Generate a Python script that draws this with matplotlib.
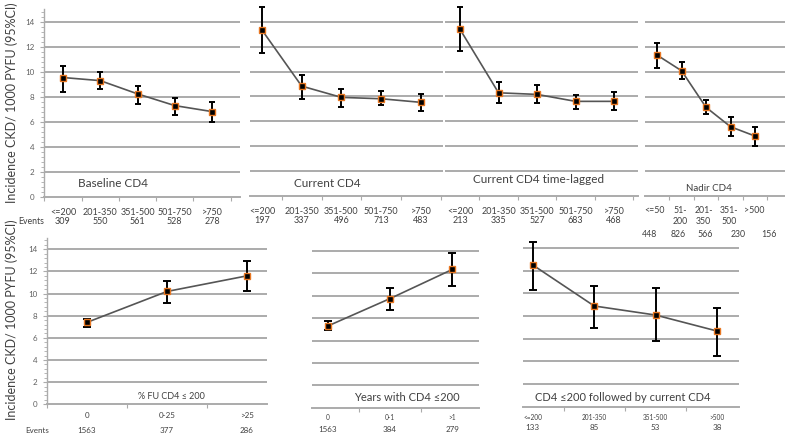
import matplotlib
matplotlib.use("Agg")
import matplotlib.pyplot as plt
from matplotlib.transforms import blended_transform_factory
from matplotlib.ticker import MultipleLocator, FixedLocator, NullFormatter

plt.rcParams['font.family'] = ['Lato', 'DejaVu Sans']

W, H = 785, 436

# ---------------- data ----------------
base_cats = ["<=200", "201-350", "351-500", "501-750", ">750"]
base_events = ["309", "550", "561", "528", "278"]
base_val = [9.55, 9.30, 8.24, 7.30, 6.82]
base_lo = [8.35, 8.63, 7.43, 6.58, 5.96]
base_hi = [10.51, 9.97, 8.90, 7.91, 7.56]

cur_cats = ["<=200", "201-350", "351-500", "501-750", ">750"]
cur_events = ["197", "337", "496", "713", "483"]
cur_val = [13.35, 8.83, 7.92, 7.81, 7.52]
cur_lo = [11.52, 7.81, 7.16, 7.27, 6.84]
cur_hi = [15.18, 9.72, 8.56, 8.43, 8.16]

lag_cats = ["<=200", "201-350", "351-500", "501-750", ">750"]
lag_events = ["213", "335", "527", "683", "468"]
lag_val = [13.40, 8.29, 8.16, 7.60, 7.60]
lag_lo = [11.65, 7.44, 7.48, 7.00, 6.88]
lag_hi = [15.20, 9.18, 8.95, 8.15, 8.33]

nad_cats = ["<=50", "51-\n200", "201-\n350", "351-\n500", ">500"]
nad_events = ["448", "826", "566", "230", "156"]
nad_val = [11.34, 10.08, 7.14, 5.58, 4.83]
nad_lo = [10.27, 9.41, 6.57, 4.83, 4.05]
nad_hi = [12.33, 10.76, 7.72, 6.38, 5.58]

fu_cats = ["0", "0-25", ">25"]
fu_events = ["1563", "377", "286"]
fu_val = [7.40, 10.19, 11.60]
fu_lo = [7.01, 9.11, 10.20]
fu_hi = [7.70, 11.15, 12.97]

yrs_cats = ["0", "0-1", ">1"]
yrs_events = ["1563", "384", "279"]
yrs_val = [7.30, 9.75, 12.35]
yrs_lo = [6.94, 8.73, 10.88]
yrs_hi = [7.75, 10.72, 13.85]

fol_cats = ["<=200", "201-350", "351-500", ">500"]
fol_events = ["133", "85", "53", "38"]
fol_val = [12.50, 8.88, 8.08, 6.67]
fol_lo = [10.29, 6.90, 5.81, 4.49]
fol_hi = [14.56, 10.64, 10.44, 8.73]

ylabel = "Incidence CKD/ 1000 PYFU (95%CI)"

# ---------------- helpers ----------------
fig = plt.figure(figsize=(W / 100, H / 100), dpi=100)

GRID = "#ababab"
TXT = "#404040"


def make_ax(x0, x1, y_top, y_bot, xlim, ymax=15.0):
    ax = fig.add_axes([x0 / W, 1 - y_bot / H, (x1 - x0) / W, (y_bot - y_top) / H])
    ax.set_xlim(*xlim)
    ax.set_ylim(0, ymax)
    for s in ["top", "right", "left"]:
        ax.spines[s].set_visible(False)
    ax.spines["bottom"].set_color(GRID)
    ax.spines["bottom"].set_linewidth(1.4)
    for g in range(2, 15, 2):
        ax.axhline(g, color=GRID, lw=1.4, zorder=0)
    ax.set_yticks([])
    ax.patch.set_alpha(0)
    return ax


def yaxis(ax):
    ax.spines["left"].set_visible(True)
    ax.spines["left"].set_color(GRID)
    ax.spines["left"].set_linewidth(1.0)
    ax.set_yticks(range(0, 15, 2))
    ax.yaxis.set_minor_locator(MultipleLocator(0.4))
    ax.tick_params(axis="y", which="major", length=3, width=0.8, color=GRID,
                   labelsize=5.8, labelcolor="#606060", pad=4)
    ax.tick_params(axis="y", which="minor", length=2, width=0.6, color=GRID)


def series(ax, vals, lo, hi, capsize=2.2, ms=4.5):
    x = list(range(len(vals)))
    yerr = [[v - l for v, l in zip(vals, lo)], [h - v for v, h in zip(vals, hi)]]
    ax.plot(x, vals, color="#555555", lw=1.2, zorder=2, clip_on=False)
    eb = ax.errorbar(x, vals, yerr=yerr, fmt="none", ecolor="black", elinewidth=1.4,
                     capsize=capsize, capthick=1.4, zorder=3)
    for art in eb.lines[1] + eb.lines[2]:
        art.set_clip_on(False)
    ax.plot(x, vals, linestyle="none", marker="s", ms=ms, mfc="black",
            mec="#e87722", mew=1.0, zorder=4, clip_on=False)


def xcats(ax, n, tick_len=3):
    ax.set_xticks([])
    ax.xaxis.set_minor_locator(FixedLocator([i + 0.5 for i in range(-1, n)]))
    ax.xaxis.set_minor_formatter(NullFormatter())
    ax.tick_params(axis="x", which="minor", length=tick_len, width=0.8, color=GRID,
                   direction="out")


def label_row(ax, labels, ypx, size=6.5, xs=None, color=TXT):
    tr = blended_transform_factory(ax.transData, fig.transFigure)
    for i, s in enumerate(labels):
        xx = i if xs is None else xs[i]
        ax.text(xx, 1 - ypx / H, s, transform=tr, ha="center", va="center",
                fontsize=size, color=color, linespacing=1.1)


def fig_text(xpx, ypx, s, size, ha="center", color=TXT, **kw):
    fig.text(xpx / W, 1 - ypx / H, s, ha=ha, va="center", fontsize=size, color=color, **kw)


# ---------------- top row ----------------
TOP_Y, BOT_Y = 9.5, 196.7

ax1 = make_ax(44, 240, TOP_Y, BOT_Y, (-0.51, 4.75))
yaxis(ax1)
xcats(ax1, 5)
series(ax1, base_val, base_lo, base_hi)
label_row(ax1, base_cats, 212)
label_row(ax1, base_events, 221)
fig_text(113, 183, "Baseline CD4", 8.5)
fig_text(44, 221, "Events", 6.3, ha="right")

ax2 = make_ax(250, 443, TOP_Y, BOT_Y - 1, (-0.3, 4.555))
xcats(ax2, 5)
series(ax2, cur_val, cur_lo, cur_hi)
label_row(ax2, cur_cats, 211)
label_row(ax2, cur_events, 220)
fig_text(327, 183, "Current CD4", 8.5)

ax3 = make_ax(445, 638, TOP_Y, BOT_Y - 1, (-0.39, 4.62))
xcats(ax3, 5)
series(ax3, lag_val, lag_lo, lag_hi)
label_row(ax3, lag_cats, 211)
label_row(ax3, lag_events, 220)
fig_text(539, 179, "Current CD4 time-lagged", 8.5)

ax4 = make_ax(645, 785, TOP_Y, BOT_Y - 0.5, (-0.49, 5.22))
xcats(ax4, 5)
series(ax4, nad_val, nad_lo, nad_hi)
label_row(ax4, [c.split("\n")[0] for c in nad_cats], 210, size=6.3, xs=[-0.1, 0.95, 1.9, 2.95, 3.95])
label_row(ax4, [c.split("\n")[1] if "\n" in c else "" for c in nad_cats], 222, size=6.3,
          xs=[-0.1, 0.95, 1.9, 2.95, 3.95])
label_row(ax4, nad_events, 234, size=6.3, xs=[-0.3, 0.85, 1.95, 3.3, 4.55])
fig_text(709, 188, "Nadir CD4", 7.0)

fig_text(12, 103, ylabel, 9.0, rotation=90)

# ---------------- bottom row ----------------
ax5 = make_ax(47, 267, 238.2, 404.3, (-0.5, 2.25))
yaxis(ax5)
xcats(ax5, 3)
series(ax5, fu_val, fu_lo, fu_hi, capsize=2.6)
label_row(ax5, fu_cats, 415, size=5.8)
label_row(ax5, fu_events, 430, size=5.8)
fig_text(171, 396, "% FU CD4 ≤ 200", 6.5)
fig_text(37, 430, "Events", 5.8)

ax6 = make_ax(311.7, 479, 239.8, 407.7, (-0.26, 2.43))
xcats(ax6, 3)
series(ax6, yrs_val, yrs_lo, yrs_hi, capsize=2.6)
label_row(ax6, yrs_cats, 417.5, size=4.7)
label_row(ax6, yrs_events, 429, size=5.8)
fig_text(407, 397, "Years with CD4 ≤200", 8.0)

ax7 = make_ax(523, 739, 236.7, 406.5, (-0.16, 3.36))
xcats(ax7, 4)
series(ax7, fol_val, fol_lo, fol_hi, capsize=2.6)
label_row(ax7, fol_cats, 417, size=4.7)
label_row(ax7, fol_events, 427, size=5.8)
fig_text(623, 397, "CD4 ≤200 followed by current CD4", 8.0)

fig_text(12, 320, ylabel, 9.0, rotation=90)

fig.savefig("out.png", dpi=100)
